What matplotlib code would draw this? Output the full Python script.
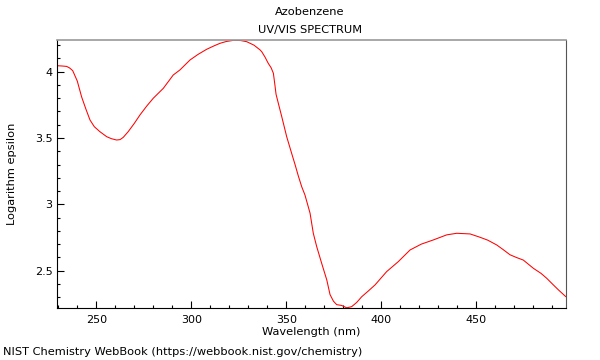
import matplotlib
matplotlib.use("Agg")
import matplotlib.pyplot as plt
from matplotlib.ticker import MultipleLocator, FuncFormatter

# wavelength (nm) and log epsilon
wavelength = [229.5, 232.0, 234.4, 236.0, 237.6, 240.0, 242.3, 244.5, 246.7, 249.0,
              251.9, 255.5, 258.0, 260.7, 262.5, 264.2, 266.8, 270.0, 273.0, 276.5,
              280.0, 285.3, 290.5, 294.0, 299.3, 303.5, 308.1, 312.0, 315.1, 318.5,
              322.1, 326.0, 329.2, 333.0, 336.2, 337.1, 338.8, 340.5, 342.0, 343.2,
              344.0, 344.6, 345.8, 347.6, 350.2, 352.8, 354.6, 356.3, 358.1, 359.8,
              361.0, 362.5, 364.2, 366.0, 368.6, 371.3, 373.0, 374.8, 376.5, 379.1,
              381.8, 384.4, 387.0, 389.7, 393.0, 396.7, 402.8, 408.9, 415.1, 421.0,
              427.4, 434.4, 439.7, 446.7, 451.9, 456.0, 460.7, 464.0, 467.7, 471.0,
              474.7, 480.0, 484.0, 487.0, 490.0, 493.2, 497.0]
log_eps = [4.045, 4.043, 4.040, 4.028, 4.008, 3.930, 3.810, 3.720, 3.636, 3.585,
           3.548, 3.510, 3.495, 3.485, 3.488, 3.505, 3.548, 3.610, 3.674, 3.740,
           3.800, 3.875, 3.975, 4.013, 4.088, 4.130, 4.169, 4.195, 4.214, 4.228,
           4.236, 4.235, 4.226, 4.200, 4.164, 4.150, 4.110, 4.063, 4.030, 3.988,
           3.900, 3.830, 3.762, 3.661, 3.510, 3.385, 3.300, 3.215, 3.133, 3.071,
           3.010, 2.933, 2.782, 2.681, 2.556, 2.430, 2.320, 2.270, 2.244, 2.238,
           2.220, 2.229, 2.260, 2.304, 2.345, 2.393, 2.493, 2.568, 2.656, 2.700,
           2.732, 2.770, 2.782, 2.777, 2.752, 2.730, 2.694, 2.660, 2.620, 2.600,
           2.580, 2.518, 2.480, 2.443, 2.400, 2.355, 2.305]

title_lines = ["Azobenzene", "UV/VIS SPECTRUM"]
x_label = "Wavelength (nm)"
y_label = "Logarithm epsilon"
footer = "NIST Chemistry WebBook (https://webbook.nist.gov/chemistry)"

fig = plt.figure(figsize=(6, 3.6), dpi=100)
ax = fig.add_axes([0.0955, 0.1453, 0.8473, 0.7436])

ax.plot(wavelength, log_eps, color="#ff0000", linewidth=0.75)

ax.set_xlim(229.5, 497)
ax.set_ylim(2.221, 4.239)

ax.xaxis.set_major_locator(MultipleLocator(50))
ax.xaxis.set_minor_locator(MultipleLocator(10))
ax.yaxis.set_major_locator(MultipleLocator(0.5))
ax.yaxis.set_minor_locator(MultipleLocator(0.1))
ax.yaxis.set_major_formatter(FuncFormatter(lambda v, p: f"{v:g}"))

ax.tick_params(which="both", direction="in", top=False, right=False,
               labelsize=8, color="black", width=0.8)
ax.tick_params(which="major", length=5)
ax.tick_params(which="minor", length=2.5)
ax.tick_params(axis="x", which="major", pad=5)

ax.spines["top"].set_color("#999999")
ax.spines["right"].set_color("#555555")
ax.spines["top"].set_linewidth(1.2)
ax.spines["left"].set_color("black")
ax.spines["bottom"].set_color("black")

ax.set_xlabel(x_label, fontsize=8.2, labelpad=2)
ax.set_ylabel(y_label, fontsize=8.2, labelpad=13)

fig.text(310 / 600, 1 - 12 / 360, title_lines[0], ha="center", va="center", fontsize=8.2)
fig.text(310 / 600, 1 - 30 / 360, title_lines[1], ha="center", va="center", fontsize=8.2)
fig.text(3 / 600, 1 - 352 / 360, footer, ha="left", va="center", fontsize=8.2)

fig.savefig("out.png", dpi=100, facecolor="white")
